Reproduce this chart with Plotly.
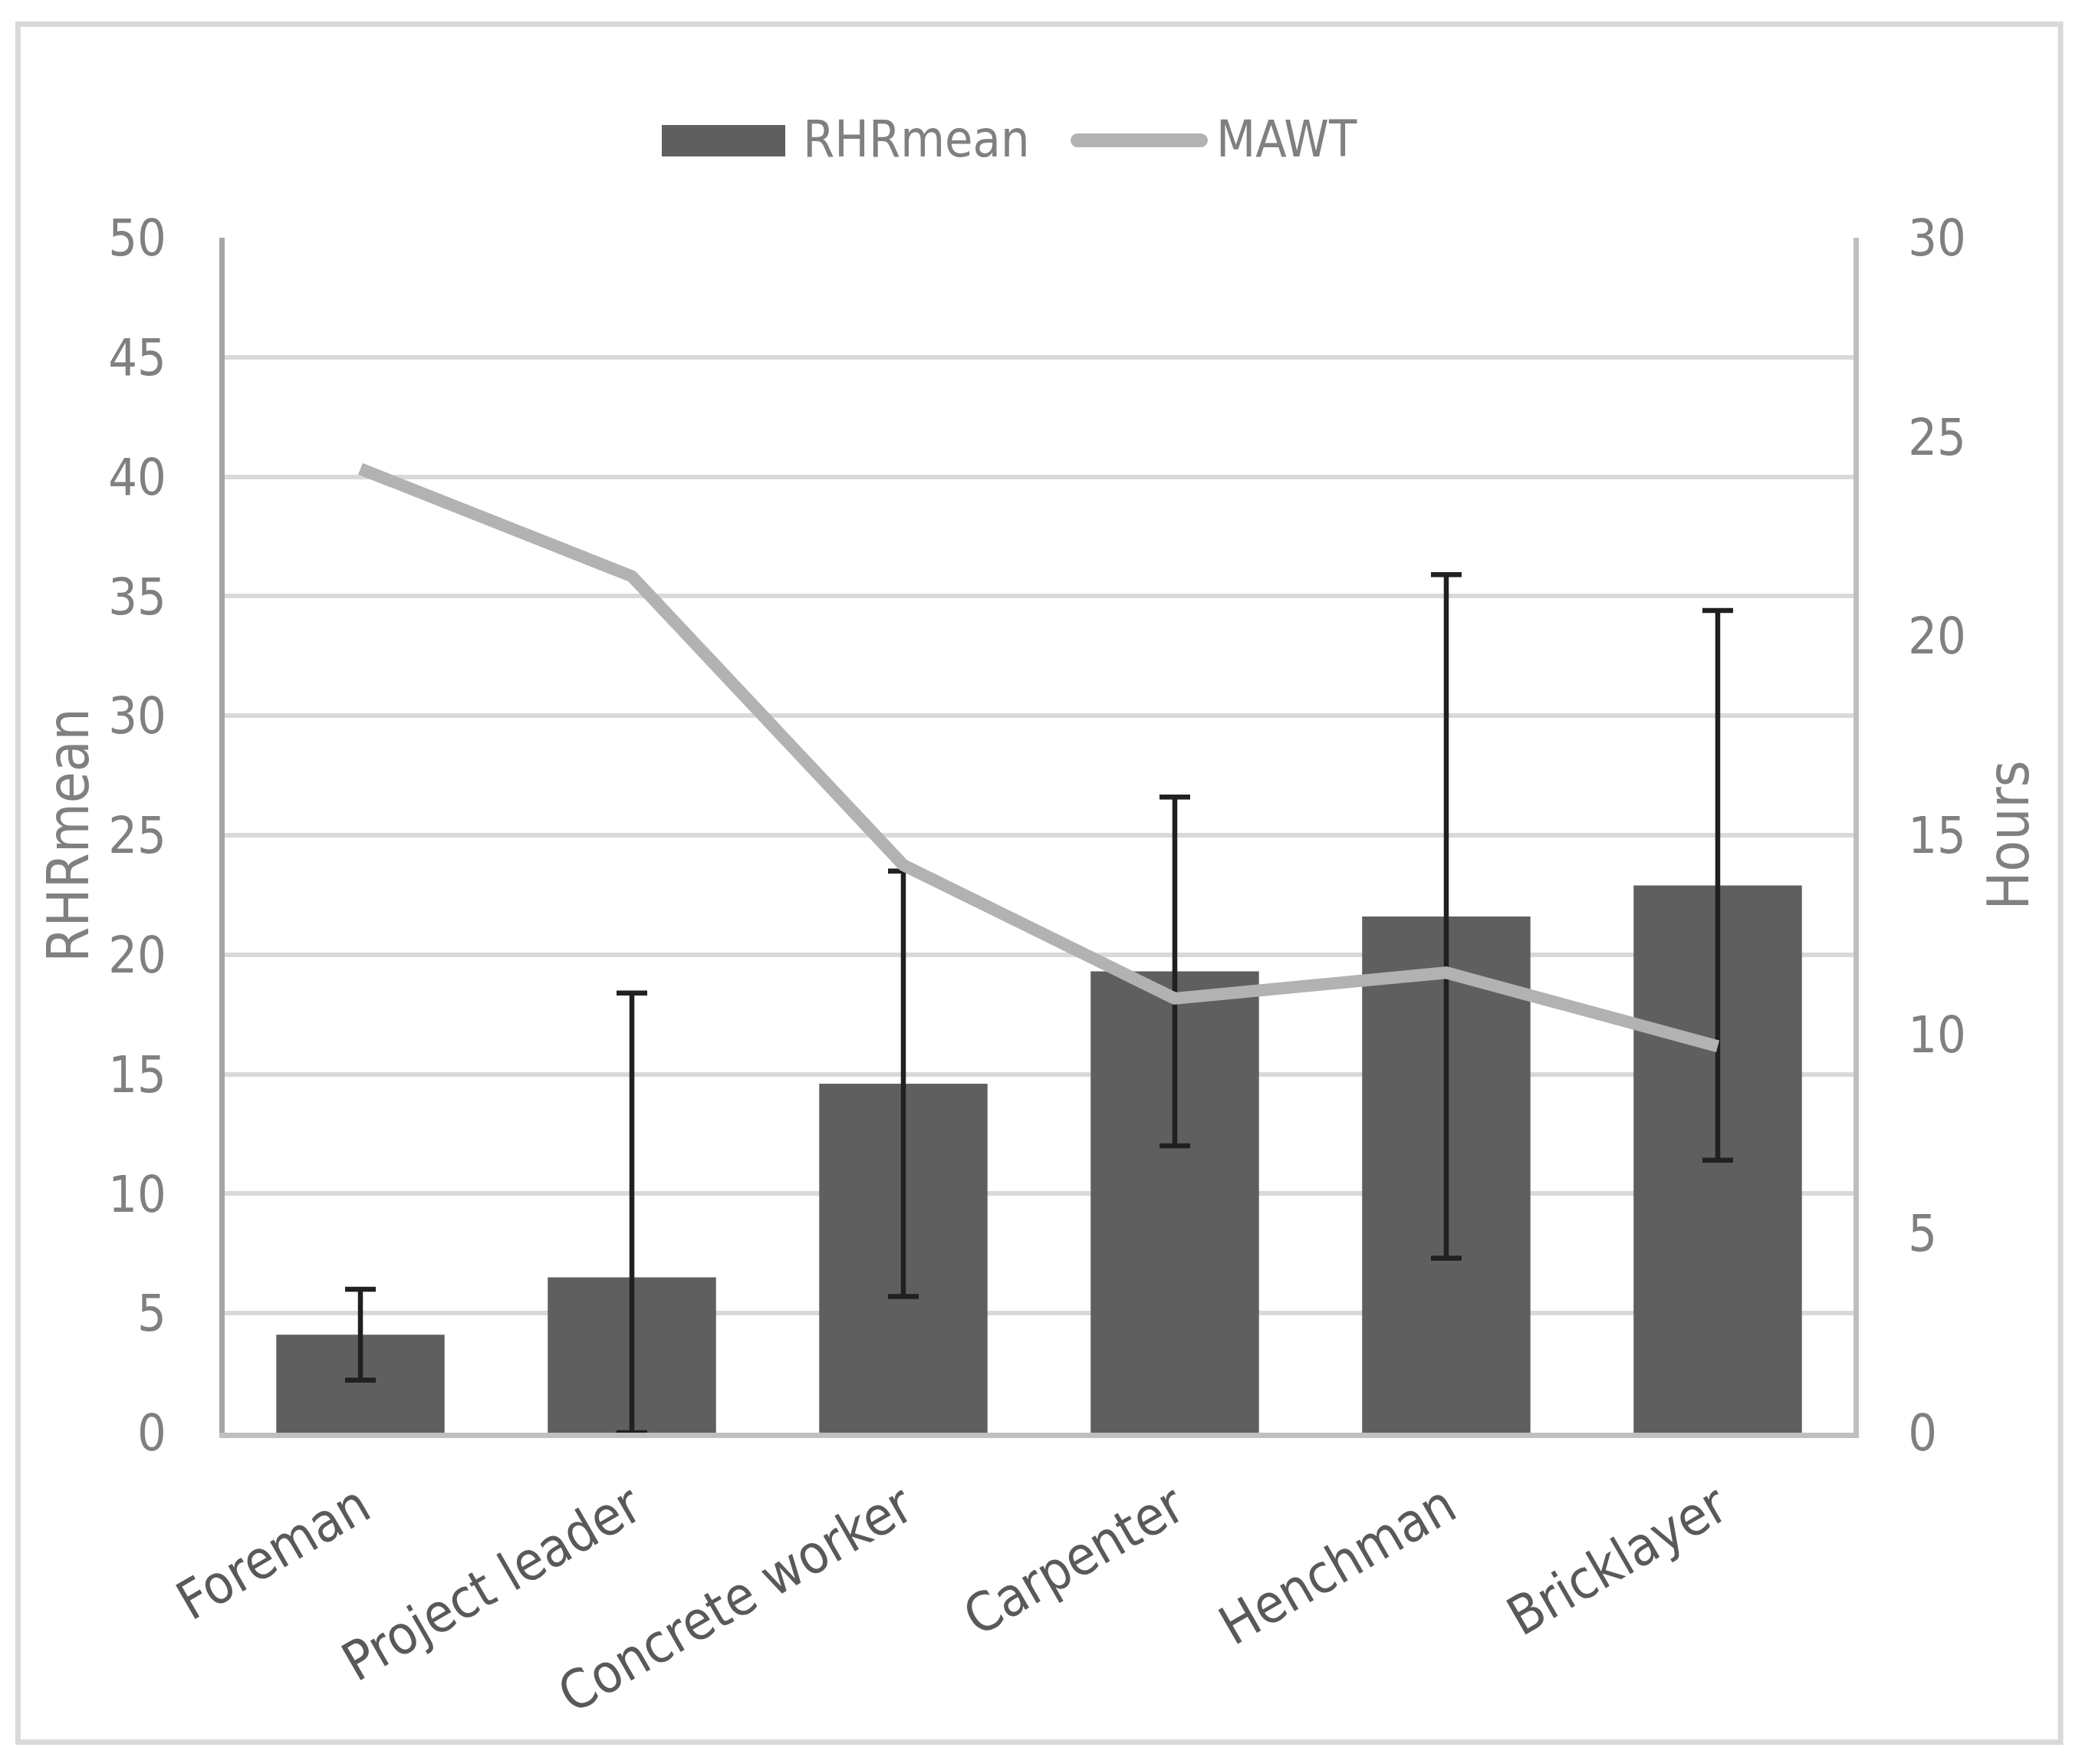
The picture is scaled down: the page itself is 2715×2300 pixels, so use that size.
import plotly.graph_objects as go

categories = ["Foreman", "Project leader", "Concrete worker", "Carpenter", "Henchman", "Bricklayer"]
rhr_mean = [4.1, 6.5, 14.6, 19.3, 21.6, 22.9]
rhr_err_plus = [1.9, 11.9, 8.9, 7.3, 14.3, 11.5]
rhr_err_minus = [1.9, 6.5, 8.9, 7.3, 14.3, 11.5]
mawt_hours = [24.2, 21.5, 14.25, 10.9, 11.55, 9.7]

left_ticks = [0, 5, 10, 15, 20, 25, 30, 35, 40, 45, 50]
right_ticks = [0, 5, 10, 15, 20, 25, 30]

FONT = "Liberation Sans Narrow, DejaVu Sans Condensed, Arial Narrow, sans-serif"
OFF = 8  # default page body margin
W, H = 2715 - 2 * OFF, 2300 - 2 * OFF
L = 293 - OFF
R = W - (2417 - OFF)
T = 310 - OFF
B = H - (1868 - OFF)
BAR_COLOR = "#5f5f5f"
LINE_COLOR = "#b2b2b2"
TEXT_GRAY = "#808080"

pw = W - L - R
ph = H - T - B


def px_x(p):
    return (p - OFF - L) / pw


def px_y(p):
    return ((H - B) - (p - OFF)) / ph


fig = go.Figure()
fig.add_trace(go.Bar(
    x=categories, y=rhr_mean, name="RHRmean", showlegend=False,
    marker=dict(color=BAR_COLOR, line=dict(width=0)),
    error_y=dict(type="data", symmetric=False, array=rhr_err_plus, arrayminus=rhr_err_minus,
                 color="#202020", thickness=6.5, width=20),
    yaxis="y",
))
fig.add_trace(go.Scatter(
    x=categories, y=mawt_hours, name="MAWT", mode="lines", showlegend=False,
    line=dict(color=LINE_COLOR, width=16),
    yaxis="y2",
))

shapes = [
    # outer chart border
    dict(type="rect", xref="paper", yref="paper", x0=px_x(23.5), x1=px_x(2687), y0=px_y(2271.5), y1=px_y(31.5),
         line=dict(color="#d9d9d9", width=7), fillcolor="rgba(0,0,0,0)", layer="below"),
    # legend swatch: bar
    dict(type="rect", xref="paper", yref="paper", x0=px_x(863), x1=px_x(1024), y0=px_y(204), y1=px_y(163),
         line=dict(width=0), fillcolor=BAR_COLOR),
    # legend swatch: line
    dict(type="line", xref="paper", yref="paper", x0=px_x(1405), x1=px_x(1566), y0=px_y(183), y1=px_y(183),
         line=dict(color=LINE_COLOR, width=18)),
]
for cx in (1405, 1566):
    shapes.append(dict(type="circle", xref="paper", yref="paper", xsizemode="pixel", ysizemode="pixel",
                       xanchor=px_x(cx), yanchor=px_y(183), x0=-9, x1=9, y0=-9, y1=9,
                       line=dict(width=0), fillcolor=LINE_COLOR))

annotations = [
    dict(text="RHRmean", xref="paper", yref="paper", x=px_x(1045), y=px_y(182), xanchor="left", yanchor="middle",
         showarrow=False, font=dict(size=66, color=TEXT_GRAY)),
    dict(text="MAWT", xref="paper", yref="paper", x=px_x(1584), y=px_y(182), xanchor="left", yanchor="middle",
         showarrow=False, font=dict(size=66, color=TEXT_GRAY)),
]

fig.update_layout(
    width=W, height=H,
    margin=dict(l=L, r=R, t=T, b=B, autoexpand=False),
    paper_bgcolor="white", plot_bgcolor="white",
    font=dict(family=FONT, size=66, color=TEXT_GRAY),
    bargap=0.38,
    showlegend=False,
    xaxis=dict(
        tickangle=-30, tickfont=dict(size=70, color="#595959"),
        showline=True, linecolor="#bfbfbf", linewidth=7, showgrid=False,
        ticks="", ticklabelstandoff=22,
    ),
    yaxis=dict(
        range=[0, 50], tickvals=left_ticks, showgrid=True, gridcolor="#d9d9d9", gridwidth=6,
        showline=True, linecolor="#a6a6a6", linewidth=7, zeroline=False, ticks="",
        ticklabelstandoff=56, tickfont=dict(size=66, color=TEXT_GRAY),
        title=dict(text="RHRmean", font=dict(size=74, color=TEXT_GRAY), standoff=4),
    ),
    yaxis2=dict(
        range=[0, 30], tickvals=right_ticks, overlaying="y", side="right", showgrid=False,
        showline=True, linecolor="#bfbfbf", linewidth=7, zeroline=False, ticks="",
        ticklabelstandoff=51, tickfont=dict(size=66, color=TEXT_GRAY),
        title=dict(text="Hours", font=dict(size=74, color=TEXT_GRAY), standoff=33),
    ),
    shapes=shapes,
    annotations=annotations,
)

fig.write_html("out.html")
